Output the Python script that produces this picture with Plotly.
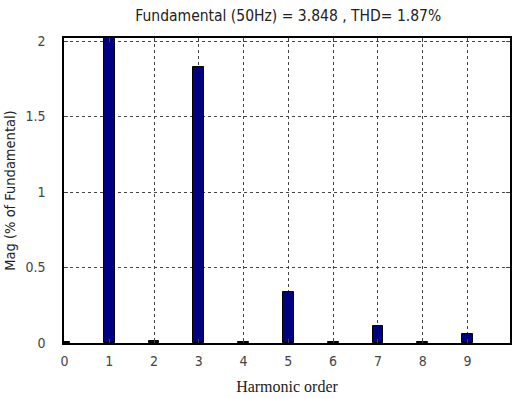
import plotly.graph_objects as go

harmonic_order = [0, 1, 2, 3, 4, 5, 6, 7, 8, 9]
magnitude = [0.006, 100, 0.012, 1.83, 0.006, 0.34, 0.005, 0.11, 0.005, 0.06]
x_ticks = [0, 1, 2, 3, 4, 5, 6, 7, 8, 9]
y_ticks = [0, 0.5, 1, 1.5, 2]
title_text = "Fundamental (50Hz) = 3.848 , THD= 1.87%"

fig = go.Figure()
fig.add_trace(go.Bar(
    x=harmonic_order, y=magnitude, width=0.24,
    marker=dict(color="#000080", line=dict(color="black", width=1)),
    showlegend=False,
))

narrow = "Liberation Sans Narrow, Arial Narrow, DejaVu Sans Condensed, sans-serif"
fig.update_layout(
    width=512, height=398,
    margin=dict(l=64, r=0, t=38, b=55),
    plot_bgcolor="white", paper_bgcolor="white",
    bargap=0,
    title=dict(text=title_text, x=0.563, xanchor="center", y=0.962, yanchor="middle",
               font=dict(family=narrow, size=15.5, color="#222")),
    xaxis=dict(
        range=[-0.01, 9.95], tickvals=x_ticks, ticks="inside", ticklen=4,
        showline=True, linecolor="black", linewidth=1.5, mirror="ticks",
        showgrid=True, gridcolor="#444", griddash="3px,3px", gridwidth=1,
        zeroline=False, ticklabelstandoff=4,
        tickfont=dict(family=narrow, size=14, color="#444"),
        title=dict(text="Harmonic order", standoff=13,
                   font=dict(family="Liberation Serif, Times New Roman, serif", size=16, color="#222")),
    ),
    yaxis=dict(
        range=[0, 2.02], tickvals=y_ticks, ticktext=["0", "0.5", "1", "1.5", "2"],
        ticks="inside", ticklen=4,
        showline=True, linecolor="black", linewidth=1.5, mirror="ticks",
        showgrid=True, gridcolor="#444", griddash="3px,3px", gridwidth=1,
        zeroline=False, ticklabelstandoff=14,
        tickfont=dict(family=narrow, size=14, color="#444"),
        title=dict(text="Mag (% of Fundamental)", standoff=6,
                   font=dict(family=narrow, size=14.5, color="#222")),
    ),
)

fig.write_html("out.html")
